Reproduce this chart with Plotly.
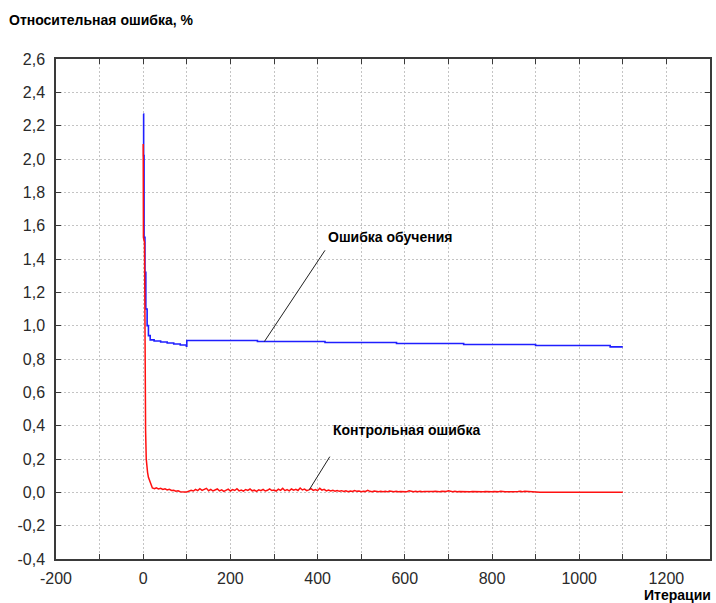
import plotly.graph_objects as go

# ---- data ----
train_x = [0, 1, 2, 4, 6, 9, 12, 16, 25, 40, 55, 70, 85, 99, 100, 262, 417, 581, 735, 900, 1071, 1100]
train_y = [2.27, 2.02, 1.53, 1.32, 1.10, 1.00, 0.94, 0.915, 0.908, 0.902, 0.896, 0.890, 0.884, 0.877,
           0.911, 0.905, 0.899, 0.893, 0.887, 0.881, 0.873, 0.873]

ctrl_head_x = [0, 0.5, 3, 3.5, 5, 5.5, 7, 8, 10, 12, 15, 18, 21, 26, 30, 35, 40, 45, 50, 55, 60, 65, 70,
               75, 80, 85, 90, 95]
ctrl_head_y = [2.09, 1.53, 1.50, 0.82, 0.80, 0.37, 0.20, 0.16, 0.12, 0.09, 0.07, 0.04, 0.026,
               0.022, 0.027, 0.020, 0.024, 0.017, 0.021, 0.014, 0.018, 0.011, 0.012, 0.007, 0.009,
               0.004, 0.005, 0.002]

ctrl_tail_start = 100
ctrl_tail_step = 5
ctrl_tail_y = [
    0.002, 0.006, 0.012, 0.008, 0.018, 0.010, 0.022, 0.012, 0.016, 0.024,
    0.010, 0.018, 0.008, 0.014, 0.020, 0.009, 0.015, 0.006, 0.013, 0.019,
    0.008, 0.016, 0.011, 0.022, 0.009, 0.014, 0.007, 0.017, 0.012, 0.020,
    0.009, 0.013, 0.006, 0.015, 0.010, 0.018, 0.008, 0.012, 0.021, 0.011,
    0.014, 0.008, 0.019, 0.012, 0.024, 0.010, 0.016, 0.009, 0.020, 0.013,
    0.018, 0.011, 0.026, 0.014, 0.019, 0.010, 0.015, 0.022, 0.012, 0.017,
    0.010, 0.024, 0.013, 0.018, 0.009, 0.014, 0.008, 0.012, 0.007, 0.011,
    0.006, 0.010, 0.005, 0.009, 0.004, 0.008, 0.005, 0.011, 0.006, 0.008,
    0.004, 0.007, 0.005, 0.012, 0.006, 0.004, 0.008, 0.005, 0.003, 0.007,
    0.004, 0.006, 0.003, 0.008, 0.005, 0.004, 0.007, 0.003, 0.005, 0.004,
    0.006, 0.004, 0.010, 0.005, 0.003, 0.006, 0.004, 0.007, 0.003, 0.005,
    0.004, 0.006, 0.003, 0.005, 0.007, 0.004, 0.003, 0.006, 0.004, 0.005,
    0.009, 0.005, 0.004, 0.006, 0.003, 0.005, 0.004, 0.003, 0.006, 0.004,
    0.003, 0.005, 0.004, 0.003, 0.006, 0.004, 0.003, 0.005, 0.003, 0.004,
    0.003, 0.005, 0.003, 0.004, 0.006, 0.003, 0.004, 0.003, 0.005, 0.003,
    0.004, 0.003, 0.005, 0.007, 0.004, 0.006, 0.005, 0.003, 0.004, 0.003,
    0.003,
]
ctrl_end_x = [910, 1100]
ctrl_end_y = [0.0, 0.0]

ctrl_x = ctrl_head_x + [ctrl_tail_start + i * ctrl_tail_step for i in range(len(ctrl_tail_y))] + ctrl_end_x
ctrl_y = ctrl_head_y + ctrl_tail_y + ctrl_end_y

y_tickvals = [-0.4, -0.2, 0.0, 0.2, 0.4, 0.6, 0.8, 1.0, 1.2, 1.4, 1.6, 1.8, 2.0, 2.2, 2.4, 2.6]
y_ticktext = ["-0,4", "-0,2", "0,0", "0,2", "0,4", "0,6", "0,8", "1,0", "1,2", "1,4", "1,6", "1,8",
              "2,0", "2,2", "2,4", "2,6"]
x_tickvals = [-200, 0, 200, 400, 600, 800, 1000, 1200]
x_ticktext = ["-200", "0", "200", "400", "600", "800", "1000", "1200"]

title_text = "Относительная ошибка, %"
xlabel_text = "Итерации"
train_label = "Ошибка обучения"
ctrl_label = "Контрольная ошибка"

FONT = "Liberation Sans, Arial, sans-serif"
GRID = "#c4c4c4"
AXIS = "#3a3a3a"
ML, MR, MT, MB = 56, 6, 59, 44
PW, PH = 716 - ML - MR, 603 - MT - MB

fig = go.Figure()
fig.add_trace(go.Scatter(x=train_x, y=train_y, mode="lines", line=dict(color="#1f1fff", width=1.6, shape="hv"),
                         showlegend=False))
fig.add_trace(go.Scatter(x=ctrl_x, y=ctrl_y, mode="lines", line=dict(color="#ff1010", width=1.5),
                         showlegend=False))

# pointer lines
fig.add_shape(type="line", xref="x", yref="y", x0=278, y0=0.905, x1=417, y1=1.452,
              line=dict(color="#202020", width=1))
fig.add_shape(type="line", xref="x", yref="y", x0=381, y0=0.016, x1=428, y1=0.214,
              line=dict(color="#202020", width=1))

fig.add_annotation(x=419, y=1.53, xref="x", yref="y", text="<b>%s</b>" % train_label, showarrow=False,
                   xanchor="left", yanchor="middle", font=dict(family=FONT, size=14, color="#000"))
fig.add_annotation(x=431, y=0.373, xref="x", yref="y", text="<b>%s</b>" % ctrl_label, showarrow=False,
                   xanchor="left", yanchor="middle", font=dict(family=FONT, size=14, color="#000"))
fig.add_annotation(x=(713 - ML) / PW, y=-(595 - (MT + PH)) / PH, xref="paper", yref="paper",
                   text="<b>%s</b>" % xlabel_text, showarrow=False, xanchor="right", yanchor="middle",
                   font=dict(family=FONT, size=14, color="#000"))
fig.add_annotation(x=(7 - ML) / PW, y=1 + (59 - 20) / PH, xref="paper", yref="paper",
                   text="<b>%s</b>" % title_text, showarrow=False, xanchor="left", yanchor="middle",
                   font=dict(family=FONT, size=14, color="#000"))

fig.update_layout(
    width=716, height=603,
    margin=dict(l=ML, r=MR, t=MT, b=MB, autoexpand=False),
    paper_bgcolor="white", plot_bgcolor="white",
    font=dict(family=FONT),
)
fig.update_xaxes(
    range=[-200, 1300], tickvals=x_tickvals, ticktext=x_ticktext, ticks="inside", ticklen=5, tickwidth=1.3,
    tickcolor=AXIS, automargin=False,
    showline=True, linecolor=AXIS, linewidth=1.5, mirror="ticks",
    showgrid=True, gridcolor=GRID, griddash="2px,2px", gridwidth=1, zeroline=False,
    tickfont=dict(family=FONT, size=16, color="#2a2a2a"), ticklabelstandoff=4,
    minor=dict(dtick=100, tick0=-200, ticks="inside", ticklen=5, tickwidth=1.3, tickcolor=AXIS,
               showgrid=True, gridcolor=GRID, griddash="2px,2px", gridwidth=1),
)
fig.update_yaxes(
    range=[-0.4, 2.6], tickvals=y_tickvals, ticktext=y_ticktext, ticks="inside", ticklen=5, tickwidth=1.3,
    tickcolor=AXIS, automargin=False, showline=True, linecolor=AXIS, linewidth=1.5, mirror="ticks",
    showgrid=True, gridcolor=GRID, griddash="2px,2px", gridwidth=1, zeroline=False,
    tickfont=dict(family=FONT, size=16, color="#2a2a2a"), ticklabelstandoff=6,
)

fig.write_html("out.html", config={"displayModeBar": False},
               post_script="document.body.style.margin='0';document.body.style.padding='0';")
